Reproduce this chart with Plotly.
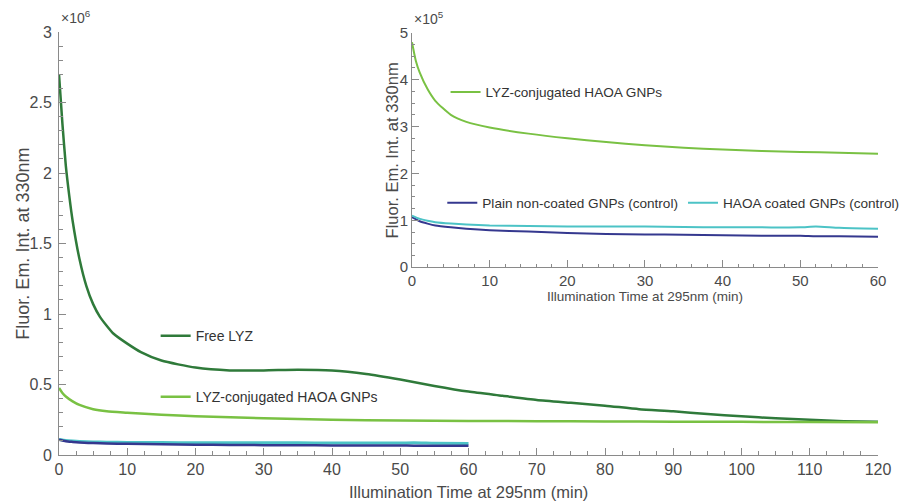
import plotly.graph_objects as go

# Main panel: fluorescence emission at 330 nm (x10^6) vs illumination time (min)
free_t = [0, 0.5, 1, 1.5, 2, 3, 4, 5, 6, 8, 10, 12, 15, 20, 25, 30, 35, 40, 45,
          50, 55, 60, 65, 70, 75, 80, 85, 90, 95, 100, 105, 110, 115, 120]
free_lyz = [2.70, 2.35, 2.05, 1.84, 1.66, 1.39, 1.20, 1.07, 0.98, 0.86, 0.79, 0.73,
            0.67, 0.62, 0.60, 0.60, 0.605, 0.60, 0.575, 0.535, 0.49, 0.45, 0.42,
            0.39, 0.37, 0.35, 0.325, 0.31, 0.29, 0.275, 0.26, 0.25, 0.24, 0.235]

conj_t = [0, 0.5, 1, 2, 3, 5, 7, 10, 15, 20, 30, 40, 50, 60, 70, 80, 90, 100, 110, 120]
conj_main = [0.475, 0.44, 0.415, 0.38, 0.355, 0.325, 0.31, 0.30, 0.285, 0.275, 0.26,
             0.25, 0.245, 0.242, 0.24, 0.238, 0.236, 0.235, 0.234, 0.233]

ctrl_t = [0, 1, 2, 3, 5, 7, 10, 15, 20, 25, 30, 35, 40, 45, 50, 52, 55, 60]
plain_main = [0.108, 0.098, 0.093, 0.089, 0.085, 0.082, 0.079, 0.076, 0.073, 0.071,
              0.070, 0.069, 0.068, 0.067, 0.067, 0.066, 0.066, 0.065]
haoa_main = [0.110, 0.103, 0.099, 0.096, 0.093, 0.091, 0.089, 0.088, 0.087, 0.087,
             0.087, 0.086, 0.085, 0.085, 0.085, 0.087, 0.084, 0.082]

# Inset panel: first 60 min (x10^5)
ins_conj_t = [0, 0.5, 1, 2, 3, 5, 7, 10, 15, 20, 25, 30, 35, 40, 45, 50, 55, 60]
ins_conj = [4.80, 4.40, 4.15, 3.80, 3.55, 3.25, 3.10, 2.98, 2.85, 2.75, 2.67, 2.60,
            2.55, 2.51, 2.48, 2.46, 2.44, 2.42]
ins_plain = [1.07, 0.98, 0.93, 0.89, 0.85, 0.82, 0.79, 0.76, 0.73, 0.71,
             0.70, 0.69, 0.68, 0.67, 0.67, 0.66, 0.66, 0.65]
ins_haoa = [1.10, 1.03, 0.99, 0.96, 0.93, 0.91, 0.89, 0.88, 0.87, 0.87,
            0.87, 0.86, 0.85, 0.85, 0.85, 0.87, 0.84, 0.82]

x_ticks_main = list(range(0, 121, 10))
y_ticks_main = [0, 0.5, 1, 1.5, 2, 2.5, 3]
x_ticks_inset = list(range(0, 61, 10))
y_ticks_inset = [0, 1, 2, 3, 4, 5]

X_TITLE = "Illumination Time at 295nm (min)"
Y_TITLE = "Fluor. Em. Int. at 330nm"

DARK_GREEN = "#2f7a3a"
LIGHT_GREEN = "#79c143"
NAVY = "#35388f"
CYAN = "#4cc3c6"
AXIS = "#8a8a8a"
TEXT = "#4a4a4a"
FONT = "Liberation Sans, Arial, sans-serif"

fig = go.Figure()

fig.add_trace(go.Scatter(x=free_t, y=free_lyz, mode="lines", name="Free LYZ",
                         line=dict(color=DARK_GREEN, width=2.5, shape="spline", smoothing=0.6),
                         xaxis="x", yaxis="y", legend="legend"))
fig.add_trace(go.Scatter(x=conj_t, y=conj_main, mode="lines", name="LYZ-conjugated HAOA GNPs",
                         line=dict(color=LIGHT_GREEN, width=2.5, shape="spline", smoothing=0.6),
                         xaxis="x", yaxis="y", legend="legend2"))
fig.add_trace(go.Scatter(x=ctrl_t, y=haoa_main, mode="lines", showlegend=False,
                         line=dict(color=CYAN, width=3, shape="spline", smoothing=0.6),
                         xaxis="x", yaxis="y"))
fig.add_trace(go.Scatter(x=ctrl_t, y=plain_main, mode="lines", showlegend=False,
                         line=dict(color=NAVY, width=2.5, shape="spline", smoothing=0.6),
                         xaxis="x", yaxis="y"))

fig.add_trace(go.Scatter(x=ins_conj_t, y=ins_conj, mode="lines", name="LYZ-conjugated HAOA GNPs",
                         line=dict(color=LIGHT_GREEN, width=2, shape="spline", smoothing=0.6),
                         xaxis="x2", yaxis="y2", legend="legend3"))
fig.add_trace(go.Scatter(x=ctrl_t, y=ins_plain, mode="lines", name="Plain non-coated GNPs (control)",
                         line=dict(color=NAVY, width=2, shape="spline", smoothing=0.6),
                         xaxis="x2", yaxis="y2", legend="legend4"))
fig.add_trace(go.Scatter(x=ctrl_t, y=ins_haoa, mode="lines", name="HAOA coated GNPs (control)",
                         line=dict(color=CYAN, width=2, shape="spline", smoothing=0.6),
                         xaxis="x2", yaxis="y2", legend="legend4"))


def axis_style(size):
    return dict(showline=True, linecolor=AXIS, linewidth=1, showgrid=False, zeroline=False,
                ticks="inside", ticklen=7, tickcolor=AXIS, automargin=False,
                tickfont=dict(family=FONT, size=size, color=TEXT))


def legend_style(size):
    return dict(bgcolor="rgba(0,0,0,0)", borderwidth=0,
                font=dict(family=FONT, size=size, color="#333333"),
                xanchor="left", yanchor="middle", itemwidth=30)


def label(text, x, y, size, angle=0, anchor="center", vanchor="middle"):
    return dict(text=text, xref="paper", yref="paper", x=x, y=y, textangle=angle,
                xanchor=anchor, yanchor=vanchor, showarrow=False,
                font=dict(family=FONT, size=size, color=TEXT))


fig.update_layout(
    width=907, height=504,
    margin=dict(l=59, r=29, t=32, b=49, autoexpand=False),
    paper_bgcolor="white", plot_bgcolor="white",
    font=dict(family=FONT, color=TEXT),
    xaxis=dict(axis_style(16), domain=[0, 1], range=[0, 120], tickvals=x_ticks_main,
               minor=dict(dtick=2.5, ticks="inside", ticklen=4, tickcolor=AXIS)),
    yaxis=dict(axis_style(16), domain=[0, 1], range=[0, 3], tickvals=y_ticks_main,
               ticklabelstandoff=3,
               minor=dict(dtick=0.1, ticks="inside", ticklen=4, tickcolor=AXIS)),
    xaxis2=dict(axis_style(15), domain=[0.431, 1.0], anchor="y2", range=[0, 60], tickvals=x_ticks_inset,
                minor=dict(dtick=2, ticks="inside", ticklen=3, tickcolor=AXIS),
                title=dict(text=X_TITLE, standoff=2,
                           font=dict(family=FONT, size=13.5, color=TEXT))),
    yaxis2=dict(axis_style(15), domain=[0.444, 0.998], anchor="x2", range=[0, 5], tickvals=y_ticks_inset,
                minor=dict(dtick=0.25, ticks="inside", ticklen=3, tickcolor=AXIS)),
    legend=dict(legend_style(14), x=0.118, y=0.281),
    legend2=dict(legend_style(14), x=0.118, y=0.137),
    legend3=dict(legend_style(13.6), x=0.472, y=0.858),
    legend4=dict(legend_style(13.6), x=0.468, y=0.596, orientation="h"),
    showlegend=True,
    annotations=[
        label(X_TITLE, 0.5, -0.1135, 16.5, vanchor="bottom"),
        label(Y_TITLE, -0.045, 0.5, 18, angle=-90),
        label(Y_TITLE, 0.4066, 0.72, 16.5, angle=-90),
        label("\u00d710<sup>6</sup>", 0.0, 1.035, 14, anchor="left"),
        label("\u00d710<sup>5</sup>", 0.431, 1.033, 14, anchor="left"),
    ],
)

fig.write_html("out.html")
